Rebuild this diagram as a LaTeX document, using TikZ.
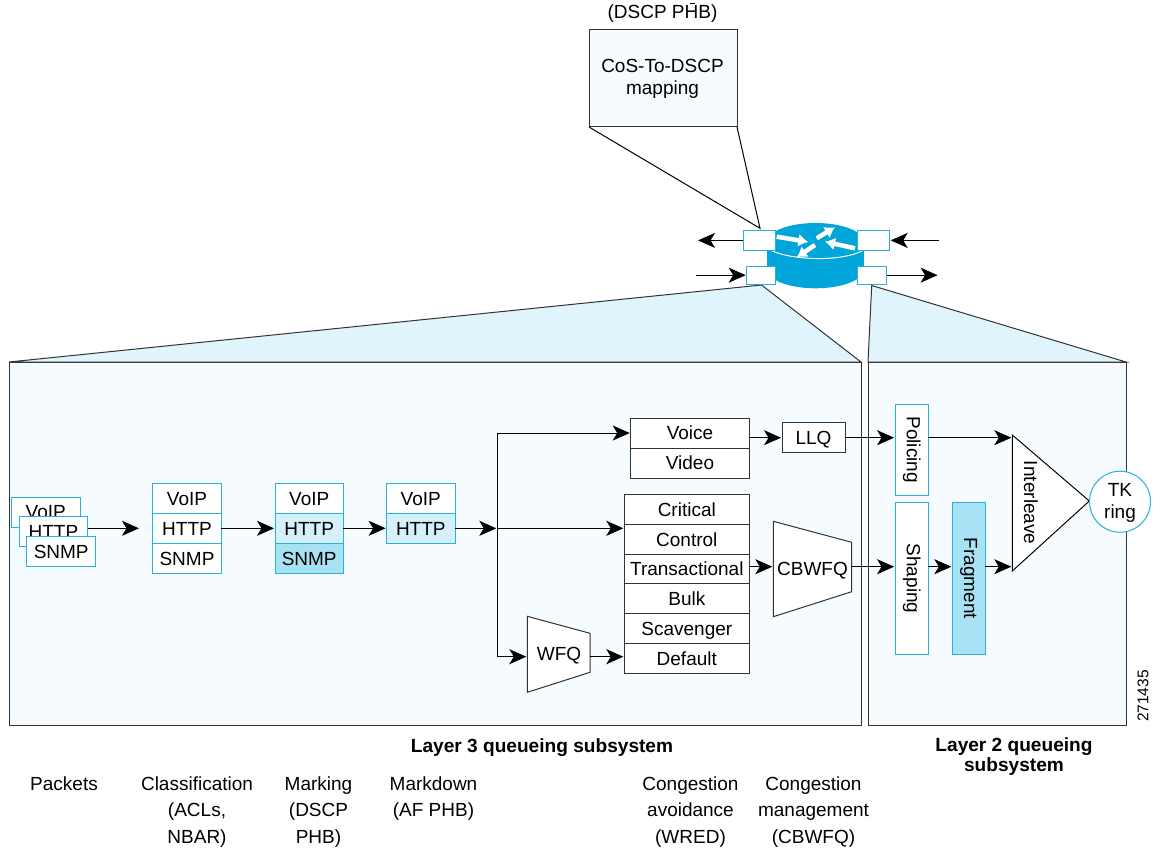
\documentclass[tikz,border=0pt]{standalone}
\usepackage{fontspec}
\setmainfont{Liberation Sans}
\usetikzlibrary{arrows.meta}
\definecolor{ciscoblue}{HTML}{00A5D9}
\definecolor{boxblue}{HTML}{29B0DD}
\definecolor{panelblue}{HTML}{F5FBFF}
\definecolor{funnelblue}{HTML}{E0F4FB}
\definecolor{paleblue}{HTML}{D5F0F8}
\definecolor{midblue}{HTML}{A6E2F3}
\definecolor{linegray}{HTML}{333333}
\tikzset{
  label text/.style={font=\fontsize{19}{26.5}\selectfont, align=center, inner sep=0pt},
  head text/.style={font=\bfseries\fontsize{19.1}{20}\selectfont, align=center, inner sep=0pt},
  cellbox/.style={font=\fontsize{19}{22}\selectfont, text=black, inner sep=0pt, outer sep=0pt,
    line width=1pt, text height=13.6pt, text depth=0pt},
  bluecell/.style={cellbox, draw=boxblue, fill=white},
  blackcell/.style={cellbox, draw=linegray, fill=white},
  stripbox/.style={font=\fontsize{19}{22}\selectfont, inner sep=0pt, outer sep=0pt,
    line width=1pt, draw=boxblue, fill=white},
  panelbox/.style={draw=linegray, fill=panelblue, line width=1pt, inner sep=0pt, outer sep=0pt},
  flow/.style={->, line width=1pt, draw=black, shorten >=1pt},
  router arrow/.style={white, line width=4.5pt, -{Latex[length=10pt,width=13pt]}},
  >={Stealth[length=17pt,width=15pt,inset=4.5pt]}
}

\begin{document}
\begin{tikzpicture}[x=1pt,y=-1pt]
  \useasboundingbox (0,0) rectangle (1161,850);
  % Panels and their funnels
  \node[panelbox, minimum width=852pt, minimum height=363pt] (l3panel) at (435,543.5) {};
  \node[panelbox, minimum width=258pt, minimum height=363pt] (l2panel) at (997,543.5) {};
  \coordinate (l3apex) at (761.5,285);
  \coordinate (l2apex) at (871.7,285.5);
  \filldraw[draw=linegray, fill=funnelblue, line width=1pt] (l3panel.north west) -- (l3apex) -- (l3panel.north east) -- cycle;
  \filldraw[draw=linegray, fill=funnelblue, line width=1pt] (l2panel.north west) -- (l2apex) -- (l2panel.north east) -- cycle;

  % Mapping box
  \node[label text] (dscpphb) at (662.5,14) {(DSCP PHB)};
  \fill[black] (689.5,3) rectangle (694.5,4.5);
  \node[panelbox, minimum width=148pt, minimum height=97pt] (cosbox) at (663,78.5) {};
  \node[label text, font=\fontsize{19}{22}\selectfont] (costext) at (662.5,78.5) {CoS-To-DSCP\\mapping};
  \coordinate (cosapex) at (760,228.3);
  \draw[line width=1pt, draw=black] (cosbox.south west) -- (cosapex) -- (cosbox.south east);

  % Router
  \fill[ciscoblue] (815.5,242) ellipse [x radius=48.5pt, y radius=19pt];
  \fill[ciscoblue] (815.5,269.3) ellipse [x radius=48.5pt, y radius=19pt];
  \fill[ciscoblue] (767,242) rectangle (864,269.3);
  \draw[white, line width=1pt] (771.7,250.7) .. controls (790,259.5) and (840,263) .. (864,250);
  \draw[router arrow] (776.7,236.7) -- (808.3,242);
  \draw[router arrow] (816.7,238.3) -- (835,227.3);
  \draw[router arrow] (855,248.3) -- (825,241.7);
  \draw[router arrow] (815,245) -- (796.7,257.3);
  \node[bluecell, minimum width=32.4pt, minimum height=20.7pt] (port1) at (759.5,240.4) {};
  \node[bluecell, minimum width=32.4pt, minimum height=20.7pt] (port2) at (873.5,240.4) {};
  \node[bluecell, minimum width=29pt, minimum height=18.3pt] (port3) at (761.2,275.2) {};
  \node[bluecell, minimum width=29.4pt, minimum height=18.3pt] (port4) at (872,275.2) {};
  \coordinate (outleft) at (697,240.4);
  \coordinate (inright) at (938.6,240.4);
  \coordinate (inleft) at (696,275.2);
  \coordinate (outright) at (938.6,275.2);
  \draw[flow] (port1.west) -- (outleft);
  \draw[flow] (inright) -- (port2.east);
  \draw[flow] (inleft) -- (port3.west);
  \draw[flow] (port4.east) -- (outright);

  % Packets
  \tikzset{every node/.append style={minimum height=30pt}}
  \node[bluecell, minimum width=68.7pt] (pvoip) at (45.7,512) {VoIP};
  \node[bluecell, minimum width=68.7pt] (phttp) at (53.4,531.7) {HTTP};
  \node[bluecell, minimum width=68.7pt] (psnmp) at (61.2,551.2) {SNMP};
  % Classification
  \node[bluecell, minimum width=68.6pt] (voipa) at (187,498.3) {VoIP};
  \node[bluecell, minimum width=68.6pt] (httpa) at (187,528.3) {HTTP};
  \node[bluecell, minimum width=68.6pt] (snmpa) at (187,558.3) {SNMP};
  % Marking
  \node[bluecell, minimum width=68.4pt] (voipb) at (309.2,498.3) {VoIP};
  \node[bluecell, minimum width=68.4pt, fill=paleblue] (httpb) at (309.2,528.3) {HTTP};
  \node[bluecell, minimum width=68.4pt, fill=midblue] (snmpb) at (309.2,558.3) {SNMP};
  % Markdown
  \node[bluecell, minimum width=68.4pt] (voipc) at (420.8,498.3) {VoIP};
  \node[bluecell, minimum width=68.4pt, fill=paleblue] (httpc) at (420.8,528.3) {HTTP};

  % Queues
  \node[blackcell, minimum width=118.6pt] (voice) at (690,433) {Voice};
  \node[blackcell, minimum width=118.6pt] (video) at (690,463) {Video};
  \node[blackcell, minimum width=125pt] (critical) at (686.8,509.3) {Critical};
  \node[blackcell, minimum width=125pt] (control) at (686.8,539.2) {Control};
  \node[blackcell, minimum width=125pt] (transact) at (686.8,569) {Transactional};
  \node[blackcell, minimum width=125pt] (bulk) at (686.8,598.8) {Bulk};
  \node[blackcell, minimum width=125pt] (scavenger) at (686.8,628.3) {Scavenger};
  \node[blackcell, minimum width=125pt] (default) at (686.8,658.8) {Default};
  \node[blackcell, minimum width=63pt] (llq) at (813.5,437.7) {LLQ};

  % Schedulers
  \coordinate (wfqa) at (527.3,616.3);
  \coordinate (wfqb) at (590,633.3);
  \coordinate (wfqc) at (590,672.3);
  \coordinate (wfqd) at (527.3,692.3);
  \filldraw[draw=linegray, fill=white, line width=1pt] (wfqa) -- (wfqb) -- (wfqc) -- (wfqd) -- cycle;
  \node[cellbox, minimum height=0pt] (wfq) at (559,654) {WFQ};
  \coordinate (cbwa) at (773.3,521.3);
  \coordinate (cbwb) at (851.7,542.3);
  \coordinate (cbwc) at (851.7,591.7);
  \coordinate (cbwd) at (773.3,616.7);
  \filldraw[draw=linegray, fill=white, line width=1pt] (cbwa) -- (cbwb) -- (cbwc) -- (cbwd) -- cycle;
  \node[cellbox, minimum height=0pt] (cbwfq) at (812.5,569) {CBWFQ};

  % Layer 2 blocks
  \node[stripbox, minimum width=33.3pt, minimum height=91.3pt] (policing) at (911.7,449.7) {\rotatebox{-90}{Policing}};
  \node[stripbox, minimum width=33.3pt, minimum height=152.4pt] (shaping) at (911.7,578.5) {\rotatebox{-90}{Shaping}};
  \node[stripbox, minimum width=33pt, minimum height=152.4pt, fill=midblue] (fragment) at (968.8,578.5) {\rotatebox{-90}{Fragment}};
  \coordinate (ilva) at (1012.3,435);
  \coordinate (ilvb) at (1089.3,501);
  \coordinate (ilvc) at (1012.3,571);
  \filldraw[draw=black, fill=white, line width=1pt] (ilva) -- (ilvb) -- (ilvc) -- cycle;
  \node[font=\fontsize{19}{22}\selectfont, inner sep=0pt, minimum height=0pt] (interleave) at (1031,502.7) {\rotatebox{-90}{Interleave}};
  \node[circle, draw=boxblue, fill=white, line width=1pt, minimum size=61pt, inner sep=0pt, outer sep=0pt] (tkring) at (1120,501.7) {};
  \node[font=\fontsize{19}{22}\selectfont, align=center, inner sep=0pt, minimum height=0pt] (tktext) at (1120,503) {TK\\ring};

  % Flows
  \coordinate (pktend) at (140,528.3);
  \draw[flow] (pktend -| phttp.east) -- (pktend);
  \draw[flow] (httpa.east) -- (httpb.west);
  \draw[flow] (httpb.east) -- (httpc.west);
  \coordinate (busm) at (497.3,528.3);
  \coordinate (wfqin) at (527.3,656.7);
  \draw[flow] (httpc.east) -- (busm);
  \draw[flow] (busm) -- (busm -| control.west);
  \draw[flow] (busm) |- (voice.west);
  \draw[flow] (busm) |- (wfqin);
  \draw[flow] (wfqin -| wfqb) -- (wfqin -| default.west);
  \draw[flow] (llq.west -| voice.east) -- (llq.west);
  \draw[flow] (llq.east) -- (llq.east -| policing.west);
  \draw[flow] (llq.east -| policing.east) -- (llq.east -| ilva);
  \coordinate (shapey) at (0,566.7);
  \draw[flow] (shapey -| transact.east) -- (shapey -| cbwa);
  \draw[flow] (shapey -| cbwb) -- (shapey -| shaping.west);
  \draw[flow] (shapey -| shaping.east) -- (shapey -| fragment.west);
  \draw[flow] (shapey -| fragment.east) -- (shapey -| ilvc);

  % Captions
  \tikzset{every node/.append style={minimum height=0pt}}
  \node[head text] (layer3) at (542,747.5) {Layer 3 queueing subsystem};
  \node[head text] (layer2) at (1014,756.5) {Layer 2 queueing\\subsystem};
  \node[label text, anchor=north] (packets) at (64,776.5) {Packets};
  \node[label text, anchor=north] (classif) at (197,776.5) {Classification\\(ACLs,\\NBAR)};
  \node[label text, anchor=north] (marking) at (318.5,776.5) {Marking\\(DSCP\\PHB)};
  \node[label text, anchor=north] (markdown) at (433.5,776.5) {Markdown\\(AF PHB)};
  \node[label text, anchor=north] (avoid) at (690.5,776.5) {Congestion\\avoidance\\(WRED)};
  \node[label text, anchor=north] (manage) at (813.5,776.5) {Congestion\\management\\(CBWFQ)};
  \node[font=\fontsize{15.5}{16}\selectfont, inner sep=0pt, rotate=90] (figno) at (1143,696) {271435};
\end{tikzpicture}
\end{document}
